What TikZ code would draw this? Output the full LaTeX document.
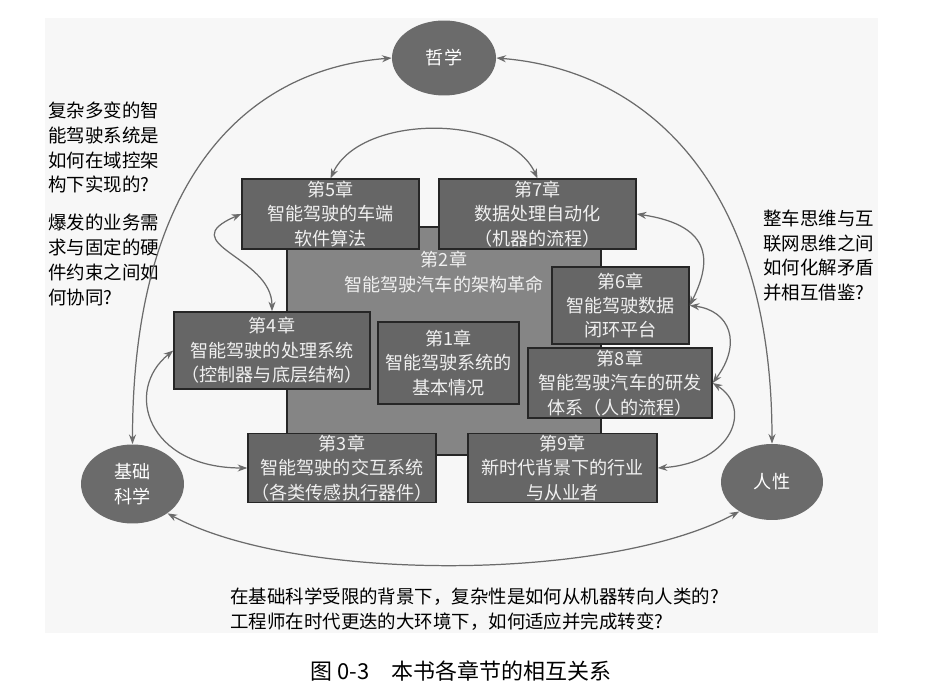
\documentclass[tikz,border=0pt]{standalone}
\usepackage{fontspec}
\setmainfont{Noto Sans CJK SC}
\usepackage{tikz}
\usetikzlibrary{arrows.meta,shapes.geometric}

\begin{document}
\begin{tikzpicture}[x=0.02cm,y=-0.02cm,
  every node/.style={font=\fontsize{10.3}{13.9}\selectfont},
  chap/.style={draw=black!85,line width=0.8pt,fill=black!60,text=white!94!black,align=center,inner sep=1pt},
  core/.style={chap,fill=black!48},
  topic/.style={ellipse,fill=black!58,text=white,align=center,inner sep=0pt},
  ask/.style={align=left,inner sep=0pt,anchor=west,font=\fontsize{10.5}{14.2}\selectfont},
  link/.style={{Stealth[length=5.5pt,width=4pt]}-{Stealth[length=5.5pt,width=4pt]},black!58,line width=0.7pt}]
 \useasboundingbox (0,0) rectangle (927,685);
 \fill[black!3] (45,18) rectangle (878,633);
 % chapter 2 sits under the others
 \node[core,minimum width=6.28cm,minimum height=4.56cm] (c2) at (444,341) {};
 \node[inner sep=0pt,align=center,text=white!94!black] (c2t) at (444,272) {第2章\\智能驾驶汽车的架构革命};
 \node[chap,minimum width=3.54cm,minimum height=1.40cm] (c5) at (330.5,214) {第5章\\智能驾驶的车端\\软件算法};
 \node[chap,minimum width=3.94cm,minimum height=1.40cm] (c7) at (537.5,214) {第7章\\数据处理自动化\\（机器的流程）};
 \node[chap,minimum width=2.74cm,minimum height=1.54cm] (c6) at (620.5,305.5) {第6章\\智能驾驶数据\\闭环平台};
 \node[chap,minimum width=3.68cm,minimum height=1.40cm] (c8) at (620,383) {第8章\\智能驾驶汽车的研发\\体系（人的流程）};
 \node[chap,minimum width=3.92cm,minimum height=1.54cm] (c4) at (272,350.5) {第4章\\智能驾驶的处理系统\\（控制器与底层结构）};
 \node[chap,minimum width=2.82cm,minimum height=1.64cm] (c1) at (448.5,363) {第1章\\智能驾驶系统的\\基本情况};
 \node[chap,minimum width=3.76cm,minimum height=1.36cm] (c3) at (342,468) {第3章\\智能驾驶的交互系统\\（各类传感执行器件）};
 \node[chap,minimum width=3.78cm,minimum height=1.36cm] (c9) at (562.5,468) {第9章\\新时代背景下的行业\\与从业者};
 % the three themes
 \node[topic,minimum width=2.08cm,minimum height=1.50cm] (zx) at (444,58) {哲学};
 \node[topic,minimum width=2.06cm,minimum height=1.58cm] (jc) at (132.5,484) {基础\\科学};
 \node[topic,minimum width=2.04cm,minimum height=1.52cm] (rx) at (772,482) {人性};
 % questions
 \node[ask] (q1) at (48,147.5) {复杂多变的智\\能驾驶系统是\\如何在域控架\\构下实现的?};
 \node[ask] (q2) at (48,260) {爆发的业务需\\求与固定的硬\\件约束之间如\\何协同?};
 \node[ask] (q3) at (763,255.5) {整车思维与互\\联网思维之间\\如何化解矛盾\\并相互借鉴?};
 \node[ask] (q4) at (230,609.5) {在基础科学受限的背景下，复杂性是如何从机器转向人类的?\\工程师在时代更迭的大环境下，如何适应并完成转变?};
 \node[inner sep=0pt,font=\fontsize{12.5}{15}\selectfont] (cap) at (461,671) {图 0-3\quad 本书各章节的相互关系};
 % links
 \draw[link] (zx.west) .. controls +(-150,12) and +(0,-260) .. (jc.north);
 \draw[link] (zx.east) .. controls +(150,12) and +(0,-260) .. (rx.north);
 \draw[link] (jc.-40) .. controls +(130,70) and +(-130,70) .. (rx.-138);
 \draw[link] (c5.north) .. controls +(30,-65) and +(-30,-65) .. (c7.north);
 \draw[link] (c5.west) .. controls +(-70,30) and +(0,-55) .. (c4.north);
 \draw[link] (c4.west) .. controls +(-50,40) and +(-100,0) .. (c3.west);
 \draw[link] (c7.east) .. controls +(80,12) and +(20,-40) .. (c6.east);
 \draw[link] (c6.east) .. controls +(40,5) and +(30,-40) .. (c8.east);
 \draw[link] (c8.east) .. controls +(40,25) and +(75,-5) .. (c9.east);
\end{tikzpicture}
\end{document}
